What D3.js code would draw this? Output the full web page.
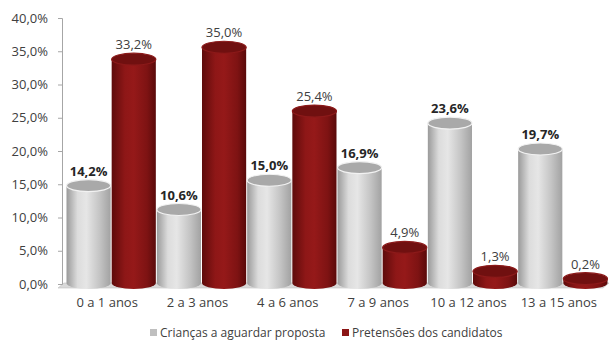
<!DOCTYPE html>
<html><head><meta charset="utf-8">
<script src="https://cdn.jsdelivr.net/npm/d3@7"></script>
<style>body{margin:0;background:#fff}svg{display:block}text{font-family:"Open Sans","Liberation Sans",sans-serif}</style>
</head><body><svg id="c" width="609" height="340"></svg>
<script>
const categories = ["0 a 1 anos","2 a 3 anos","4 a 6 anos","7 a 9 anos","10 a 12 anos","13 a 15 anos"];
const seriesNames = ["Crianças a aguardar proposta","Pretensões dos candidatos"];
const criancas = [14.2,10.6,15.0,16.9,23.6,19.7];
const pretensoes = [33.2,35.0,25.4,4.9,1.3,0.2];
const yTicks = [0,5,10,15,20,25,30,35,40];

const svg = d3.select("#c");
const defs = svg.append("defs");
function grad(id, stops){
  const g = defs.append("linearGradient").attr("id",id).attr("x1","0").attr("x2","1").attr("y1","0").attr("y2","0");
  stops.forEach(s=>g.append("stop").attr("offset",s[0]).attr("stop-color",s[1]));
}
grad("gGray",[[0,"#9a9a9a"],[0.25,"#dcdcdc"],[0.45,"#e6e6e6"],[0.75,"#c4c4c4"],[1,"#a2a2a2"]]);
grad("gRed",[[0,"#5e0b0b"],[0.3,"#8e1717"],[0.5,"#951919"],[0.8,"#7e1313"],[1,"#5a0a0a"]]);

const y = d3.scaleLinear().domain([0,40]).range([284,18]);
const x0 = d3.scaleBand().domain(categories).range([66,608]).paddingInner(0).paddingOuter(0);
const x1 = d3.scaleBand().domain(seriesNames).range([0,x0.bandwidth()]).padding(0);

// floor
const floorY = y(0);
svg.append("path").attr("d",`M58,${floorY+4} L603,${floorY+4} L609,${floorY-1} L64,${floorY-1} Z`).attr("fill","#d9d9d9").attr("stroke","#bfbfbf").attr("stroke-width",0.6);

// y axis
const yAxis = d3.axisLeft(y).tickValues(yTicks).tickSize(4).tickPadding(10)
  .tickFormat(d=>d3.format(".1f")(d).replace(".",",")+"%");
const ga = svg.append("g").attr("transform","translate(62,0)").call(yAxis);
ga.select(".domain").attr("stroke","#a6a6a6");
ga.selectAll(".tick line").attr("stroke","#a6a6a6");
ga.selectAll(".tick text").attr("fill","#404040").style("font-size","13px");

const ry = 6, lift = 4;
function cyl(g, cx, w, v, body, top, rim){
  const rx = w/2 - 0.5;
  const yt = y(v) - lift, yb = y(0) - 1;
  g.append("path").attr("d",`M${cx-rx},${yt} L${cx-rx},${yb} A${rx},${ry} 0 0 0 ${cx+rx},${yb} L${cx+rx},${yt} Z`)
    .attr("fill",body);
  g.append("ellipse").attr("cx",cx).attr("cy",yt).attr("rx",rx).attr("ry",ry)
    .attr("fill",top).attr("stroke",rim).attr("stroke-width",1.2);
}

const gb = svg.append("g");
categories.forEach((c,i)=>{
  const cxg = x0(c)+x1(seriesNames[0])+x1.bandwidth()/2;
  const cxr = x0(c)+x1(seriesNames[1])+x1.bandwidth()/2;
  const w = x1.bandwidth();
  cyl(gb, cxg, w, criancas[i], "url(#gGray)", "#a9a9a9", "#f2f2f2");
  cyl(gb, cxr, w, pretensoes[i], "url(#gRed)", "#701010", "#8c1a1a");
  gb.append("text").attr("x",cxg).attr("y",y(criancas[i])-14).attr("text-anchor","middle")
    .style("font-size","13px").style("font-weight","bold").attr("fill","#262626")
    .text(d3.format(".1f")(criancas[i]).replace(".",",")+"%");
  gb.append("text").attr("x",cxr).attr("y",y(pretensoes[i])-14).attr("text-anchor","middle")
    .style("font-size","13px").attr("fill","#404040")
    .text(d3.format(".1f")(pretensoes[i]).replace(".",",")+"%");
});

// x labels
categories.forEach(c=>{
  svg.append("text").attr("x",x0(c)+x0.bandwidth()/2-4).attr("y",307).attr("text-anchor","middle")
    .style("font-size","13px").attr("fill","#404040").text(c);
});

// legend
const legend = [{n:seriesNames[0],c:"#bfbfbf",x:150},{n:seriesNames[1],c:"#8b1515",x:342}];
legend.forEach(l=>{
  svg.append("rect").attr("x",l.x).attr("y",329).attr("width",7).attr("height",7).attr("fill",l.c);
  svg.append("text").attr("x",l.x+10).attr("y",337).style("font-size","12px").attr("fill","#404040").text(l.n);
});
</script></body></html>
